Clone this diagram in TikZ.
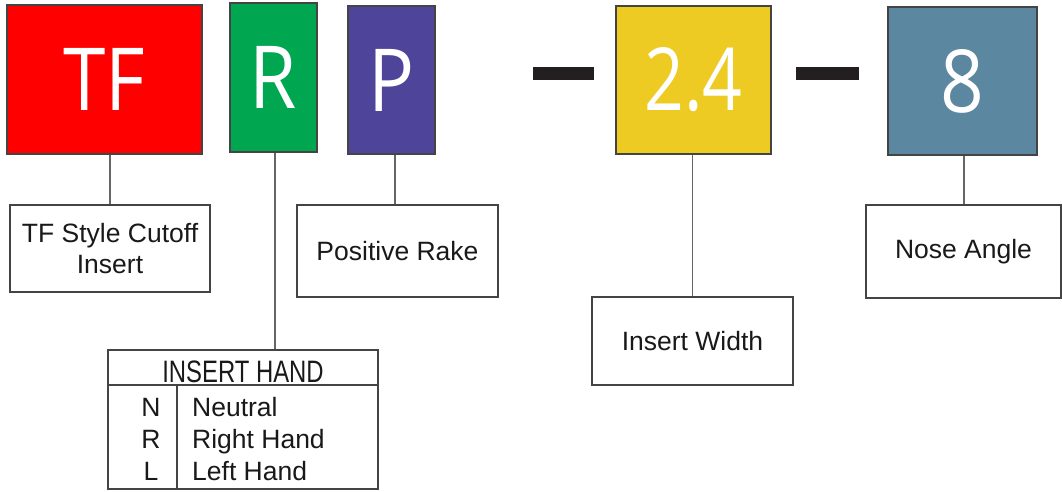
\documentclass[tikz,border=0pt]{standalone}
\usepackage{fontspec}
\setmainfont{Liberation Sans}
\newfontfamily\bigfont{Open Sans}
\definecolor{cred}{HTML}{FF0000}
\definecolor{cgreen}{HTML}{00A650}
\definecolor{cpurple}{HTML}{4E4499}
\definecolor{cyellow}{HTML}{EDCB23}
\definecolor{cblue}{HTML}{5B88A0}
\definecolor{cdash}{HTML}{231F20}
\definecolor{cline}{HTML}{444444}
\begin{document}
\begin{tikzpicture}[x=1pt,y=-1pt,
  code/.style={draw=cline,line width=1.4pt,inner sep=0pt,text=white,
    font=\bigfont\fontsize{87}{87}\selectfont},
  lab/.style={draw=cline,line width=1.2pt,inner sep=0pt,align=center,
    font=\fontsize{26.5}{31}\selectfont,text=black!90},
  cell/.style={font=\fontsize{26.5}{31}\selectfont,text=black!90},
  conn/.style={draw=gray!80!black,line width=1.3pt}]
\useasboundingbox (0,0) rectangle (1062,491);
% code boxes
\node[code,fill=cred,minimum width=195pt,minimum height=149pt] (tf) at (104.5,79.5) {\raisebox{-3pt}{\scalebox{0.88}[1]{TF}}};
\node[code,fill=cgreen,minimum width=87pt,minimum height=149pt] (r) at (273.5,77.5) {\raisebox{-3pt}{\scalebox{0.88}[1]{R}}};
\node[code,fill=cpurple,minimum width=87pt,minimum height=148pt] (p) at (391.5,80) {\raisebox{-5pt}{\scalebox{0.88}[1]{P}}};
\node[code,fill=cyellow,minimum width=155pt,minimum height=148pt] (w) at (693.5,80) {\raisebox{-2pt}{\scalebox{0.8}[1]{2.4}}};
\node[code,fill=cblue,minimum width=149pt,minimum height=148pt] (a) at (962.5,81) {\raisebox{-6pt}{\scalebox{0.88}[1]{8}}};
% dashes
\fill[cdash] (533,67) rectangle (594,80);
\fill[cdash] (796,67) rectangle (859,80);
% labels
\node[lab,minimum width=200pt,minimum height=87pt] (tfl) at (110,248.5) {TF Style Cutoff\\Insert};
\node[lab,minimum width=201pt,minimum height=92pt] (pl) at (397.5,251) {Positive Rake};
\node[lab,minimum width=201pt,minimum height=88pt] (wl) at (692.5,341) {Insert Width};
\node[lab,minimum width=195pt,minimum height=93pt] (al) at (963.5,251.5) {Nose Angle};
% insert hand table
\node[lab,minimum width=270pt,minimum height=139pt] (tab) at (243,419.5) {};
\coordinate (hl) at (108,385);
\coordinate (hr) at (378,385);
\draw[draw=cline,line width=1.2pt] (hl) -- (hr);
\coordinate (dv1) at (177,385);
\coordinate (dv2) at (177,489);
\draw[draw=cline,line width=1.2pt] (dv1) -- (dv2);
\node[font=\fontsize{31}{31}\selectfont,text=black!90] (th) at (243,372) {\scalebox{0.77}[1]{INSERT HAND}};
\node[cell,anchor=base] (n1) at (151,416) {N};
\node[cell,anchor=base] (n2) at (151,448) {R};
\node[cell,anchor=base] (n3) at (151,480) {L};
\node[cell,anchor=base west,inner sep=0pt] (d1) at (192,416) {Neutral};
\node[cell,anchor=base west,inner sep=0pt] (d2) at (192,448) {Right Hand};
\node[cell,anchor=base west,inner sep=0pt] (d3) at (192,480) {Left Hand};
% connectors
\draw[conn] (tfl.north) -- (tfl.north |- tf.south);
\draw[conn] (tab.north -| 275,0) -- (r.south -| 275,0);
\draw[conn] (pl.north -| 395,0) -- (p.south -| 395,0);
\draw[conn] (wl.north) -- (wl.north |- w.south);
\draw[conn] (al.north -| 964,0) -- (a.south -| 964,0);
\end{tikzpicture}
\end{document}
